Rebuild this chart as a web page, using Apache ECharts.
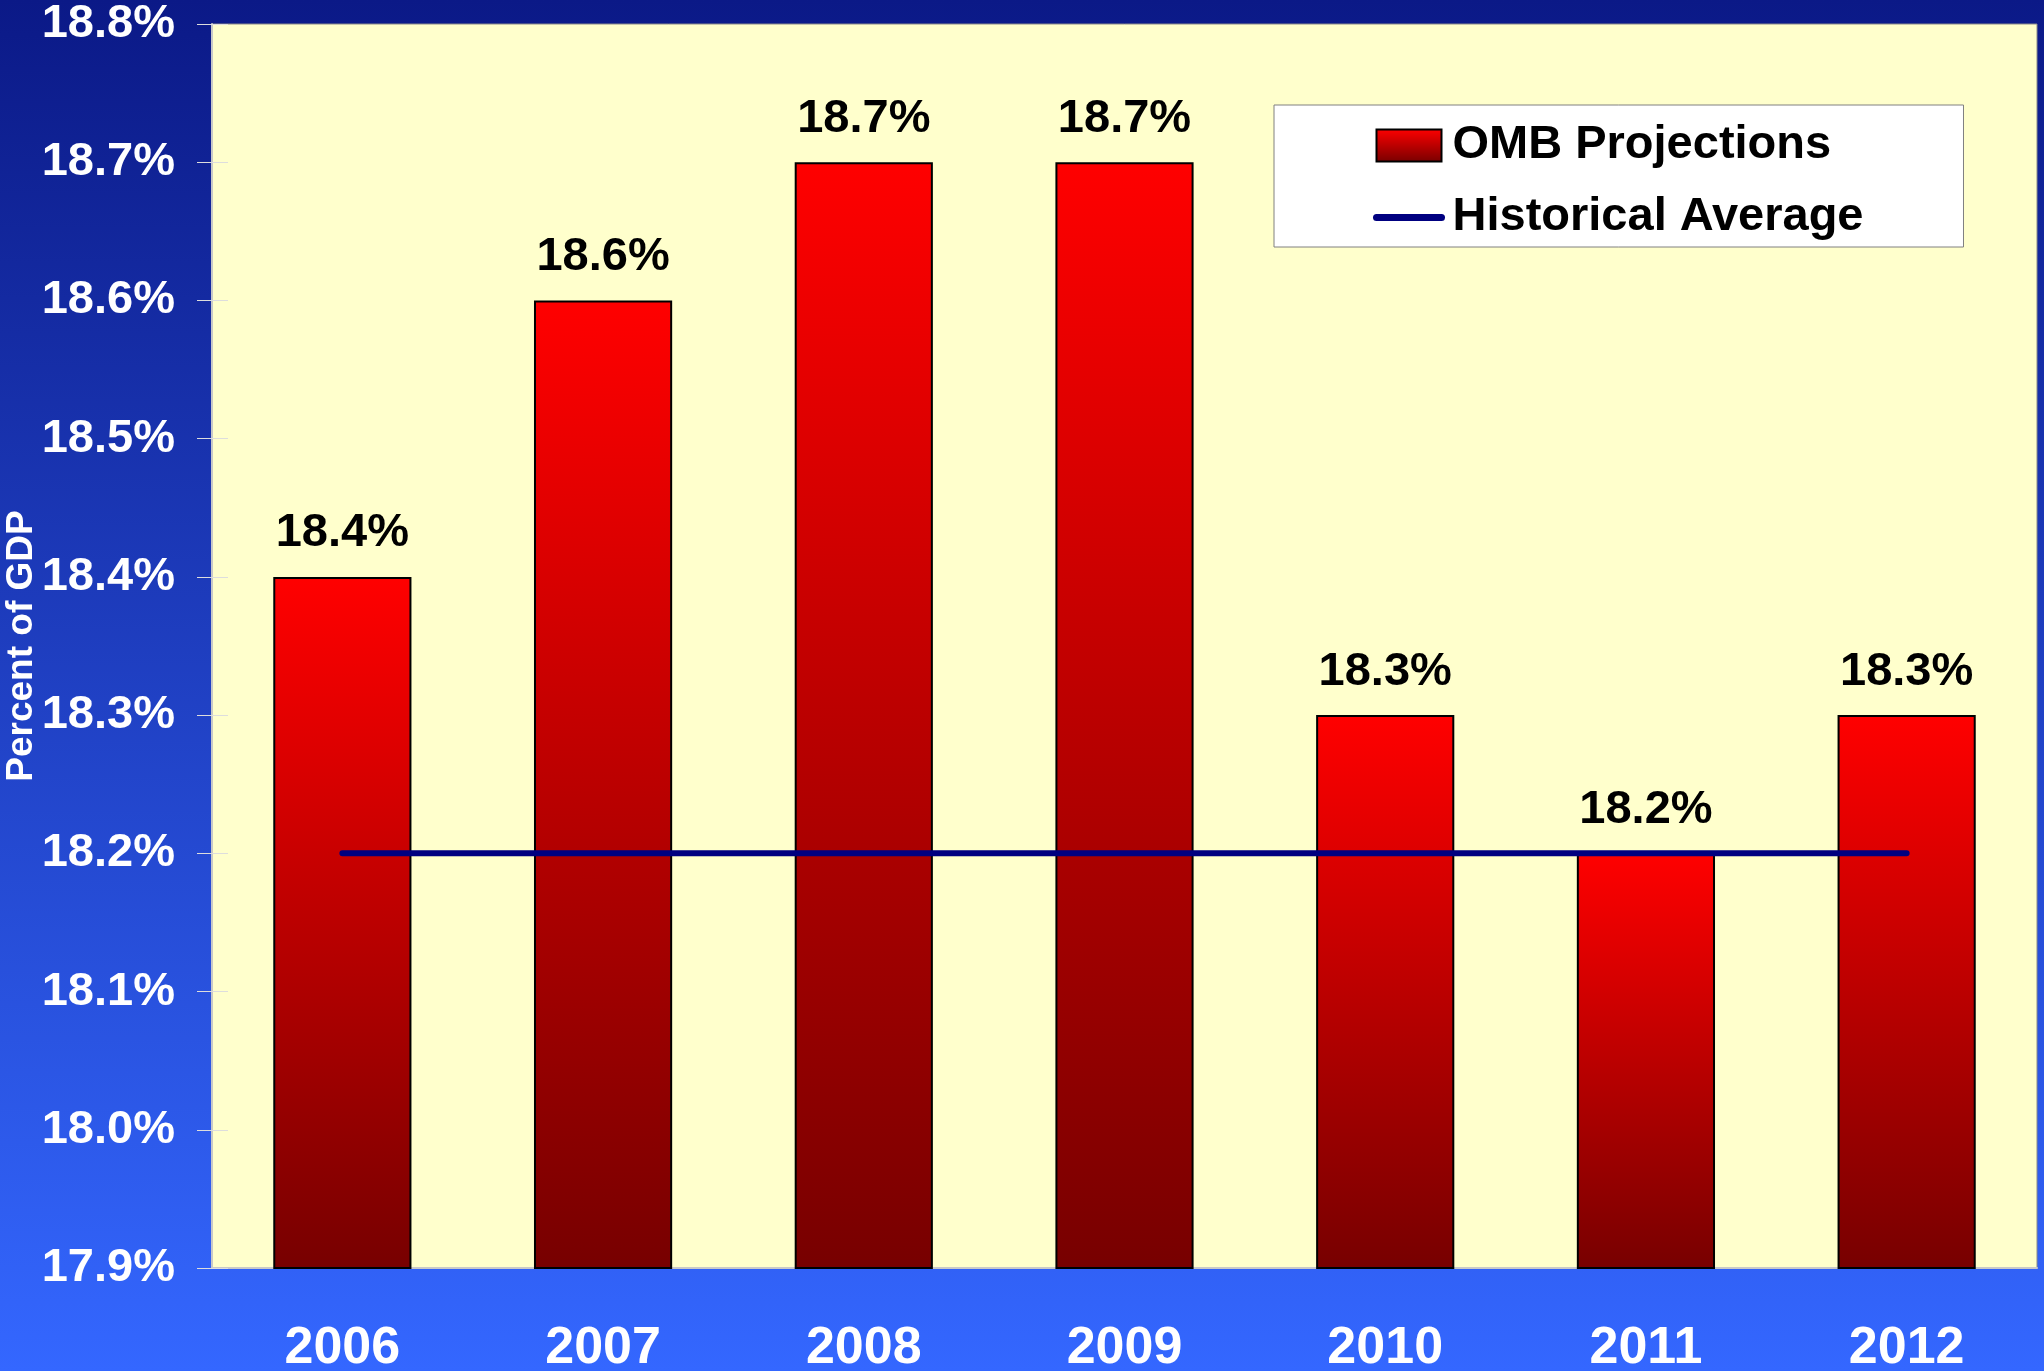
<!DOCTYPE html>
<html>
<head>
<meta charset="utf-8">
<script src="https://cdn.jsdelivr.net/npm/echarts@6/dist/echarts.min.js"></script>
<style>
  html, body { margin: 0; padding: 0; }
  #chart { width: 2044px; height: 1371px; }
</style>
</head>
<body>
<div id="chart"></div>
<script>
// chart data
const years = ['2006', '2007', '2008', '2009', '2010', '2011', '2012'];
const ombProjections = [18.4, 18.6, 18.7, 18.7, 18.3, 18.2, 18.3];
const historicalAverage = [18.2, 18.2, 18.2, 18.2, 18.2, 18.2, 18.2];
const yMin = 17.9, yMax = 18.8, yStep = 0.1;

const font = '"Liberation Sans", Arial, sans-serif';

let chart = echarts.init(document.getElementById('chart'));

let option = {
  backgroundColor: {
    type: 'linear', x: 0, y: 0, x2: 0, y2: 1,
    colorStops: [
      { offset: 0, color: '#0b1987' },
      { offset: 1, color: '#3467ff' }
    ]
  },
  grid: {
    left: 212, right: 7, top: 24, bottom: 103,
    outerBoundsMode: 'none',
    containLabel: false,
    show: true,
    backgroundColor: '#ffffcc',
    borderColor: '#8a8a8a',
    borderWidth: 1
  },
  legend: {
    orient: 'vertical',
    left: 1274, top: 105,
    padding: [17, 100, 6, 99],
    backgroundColor: '#ffffff',
    borderColor: '#808080',
    borderWidth: 1,
    itemWidth: 65,
    itemHeight: 32,
    itemGap: 25,
    itemStyle: { borderColor: '#000', borderWidth: 2 },
    textStyle: {
      fontFamily: font, fontWeight: 'bold', fontSize: 47, color: '#000',
      padding: [0, 0, 0, 6]
    },
    data: [
      { name: 'OMB Projections', icon: 'rect' },
      {
        name: 'Historical Average',
        itemStyle: { color: 'rgba(0,0,0,0)', borderWidth: 0, opacity: 0 },
        lineStyle: { width: 7, cap: 'round', color: '#000080' }
      }
    ]
  },
  xAxis: [
    {
      type: 'category',
      data: years,
      axisLine: { lineStyle: { color: '#c8c8c8', width: 2 } },
      axisTick: { length: 18, lineStyle: { color: '#ffffff', width: 1 } },
      axisLabel: { margin: 55, fontFamily: font, fontWeight: 'bold', fontSize: 52, color: '#ffffff' }
    },
    {
      // inner half of the crossing ticks
      type: 'category',
      data: years,
      position: 'bottom',
      axisLine: { show: false },
      axisTick: { inside: true, length: 16, lineStyle: { color: '#ffffff', width: 1 } },
      axisLabel: { show: false }
    }
  ],
  yAxis: [
    {
      type: 'value',
      min: yMin, max: yMax, interval: yStep,
      name: 'Percent of GDP',
      nameLocation: 'middle',
      nameGap: 172,
      nameRotate: 90,
      nameMoveOverlap: false,
      nameTextStyle: { fontFamily: font, fontWeight: 'bold', fontSize: 37, color: '#ffffff' },
      splitLine: { show: false },
      axisLine: { show: true, lineStyle: { color: '#c8c8c8', width: 2 } },
      axisTick: { show: true, length: 15, lineStyle: { color: '#dddddd', width: 1 } },
      axisLabel: {
        margin: 37,
        fontFamily: font, fontWeight: 'bold', fontSize: 47, color: '#ffffff',
        formatter: v => v.toFixed(1) + '%'
      }
    },
    {
      type: 'value',
      min: yMin, max: yMax, interval: yStep,
      position: 'left',
      splitLine: { show: false },
      axisLine: { show: false },
      axisTick: { show: true, inside: true, length: 16, lineStyle: { color: '#dddddd', width: 1 } },
      axisLabel: { show: false }
    }
  ],
  series: [
    {
      name: 'OMB Projections',
      type: 'bar',
      data: ombProjections,
      barWidth: '53%',
      itemStyle: {
        color: {
          type: 'linear', x: 0, y: 0, x2: 0, y2: 1,
          colorStops: [
            { offset: 0, color: '#ff0000' },
            { offset: 1, color: '#770000' }
          ]
        },
        borderColor: '#000000',
        borderWidth: 2
      },
      label: {
        show: true,
        position: 'top',
        distance: 20,
        fontFamily: font, fontWeight: 'bold', fontSize: 47, color: '#000000',
        formatter: p => p.value.toFixed(1) + '%'
      }
    },
    {
      name: 'Historical Average',
      type: 'line',
      data: historicalAverage,
      symbol: 'none',
      z: 5,
      itemStyle: { color: '#000080' },
      lineStyle: { color: '#000080', width: 6, cap: 'round' }
    }
  ]
};

chart.setOption(option);
</script>
</body>
</html>
